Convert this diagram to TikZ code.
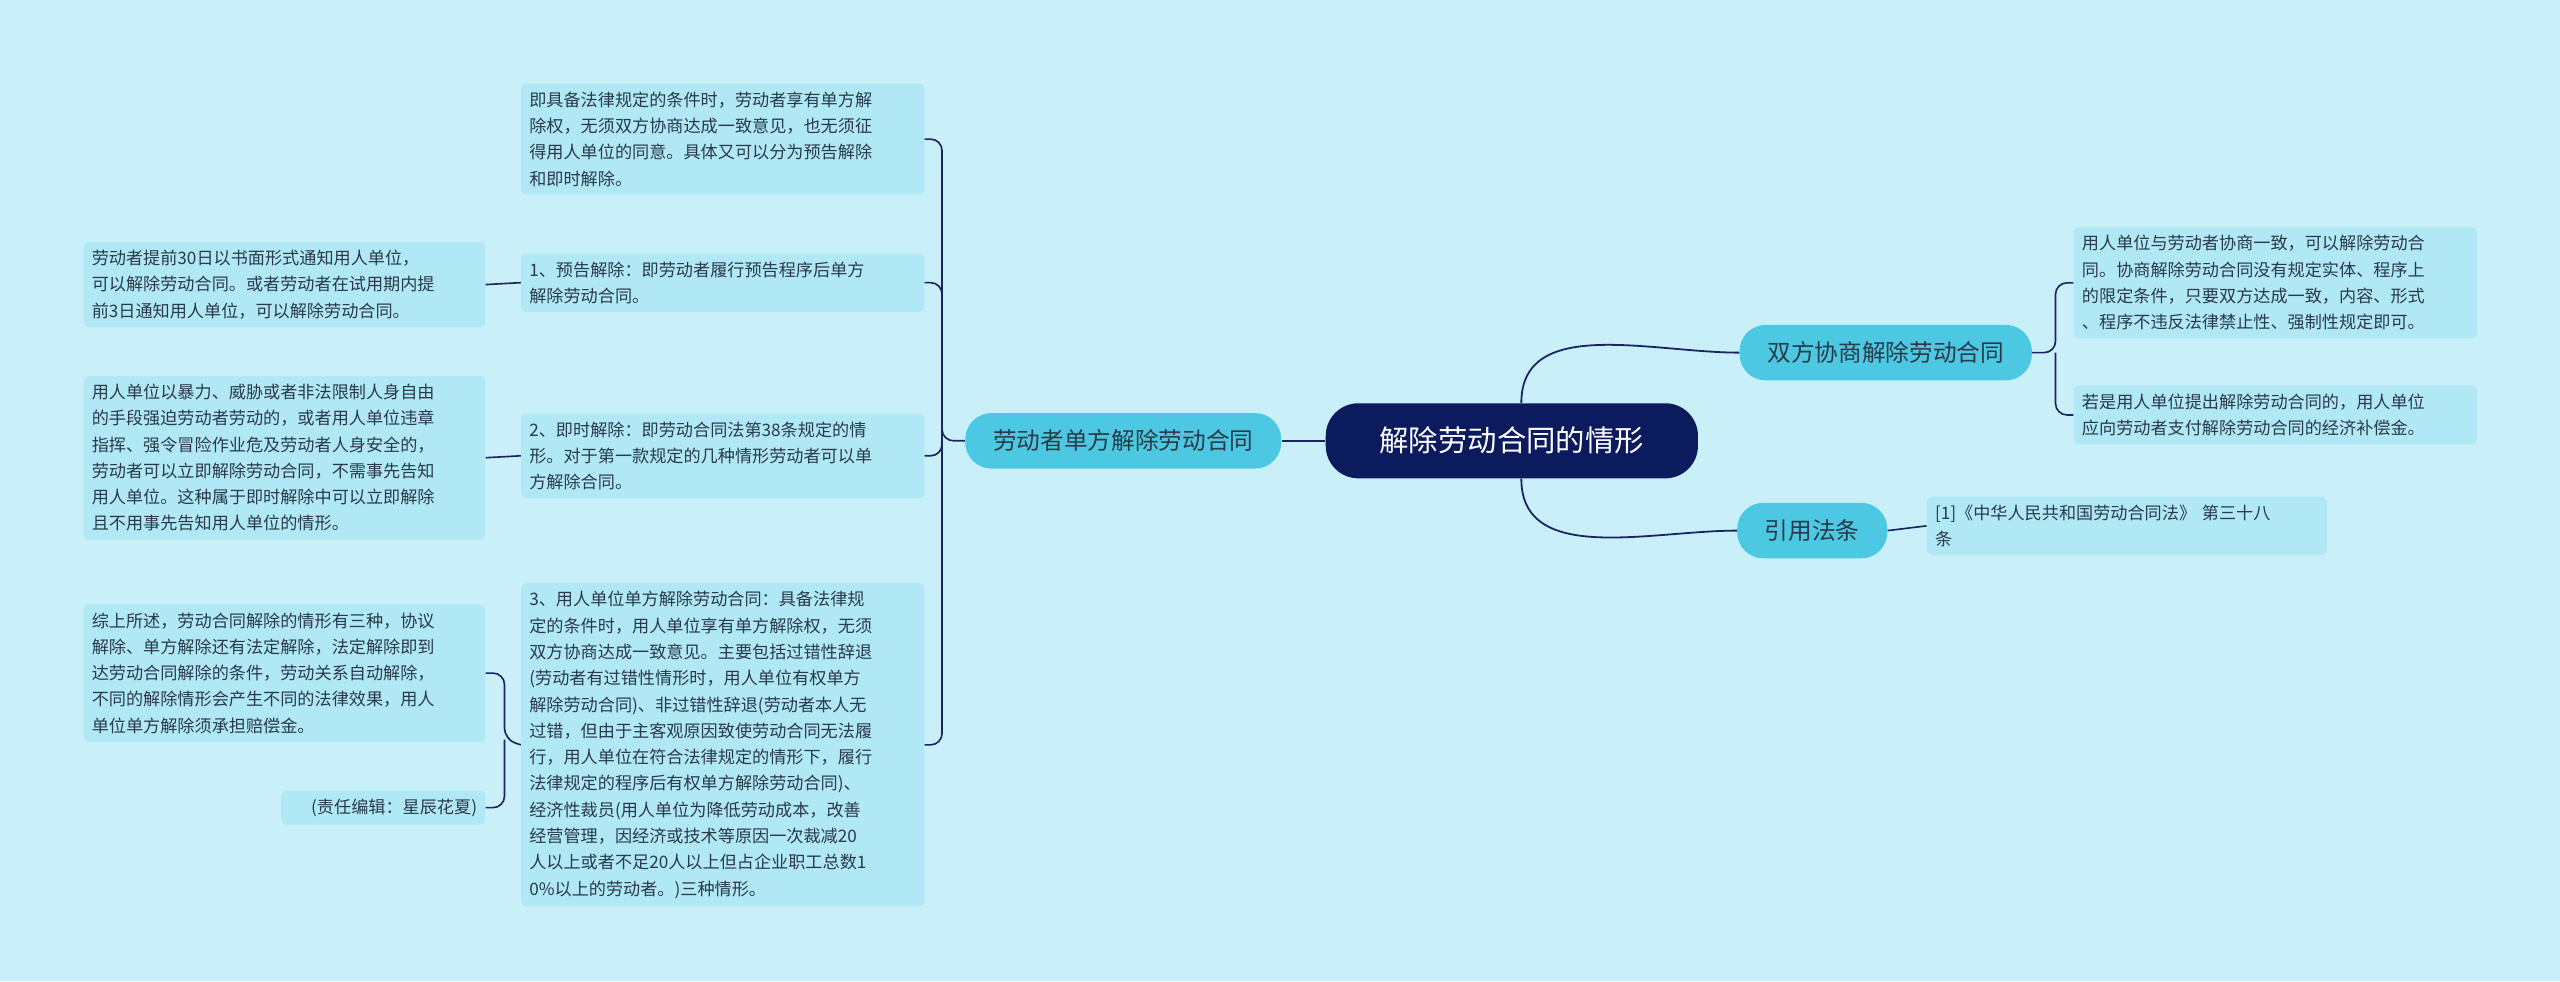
\documentclass[tikz,border=0pt]{standalone}
\usepackage{fontspec}
\setmainfont{Noto Sans CJK SC}
\begin{document}
\begin{tikzpicture}[x=1pt,y=-1pt,
  leaf/.style={fill=leafc,rounded corners=3pt,inner sep=5pt,align=left,anchor=north west,font=\fontsize{10.5}{16.1}\selectfont,text=textc},
  lone/.style={fill=midc,rounded corners=16pt,inner xsep=17pt,minimum height=34pt,font=\fontsize{14.5}{16}\selectfont,text=textc},
  con/.style={draw=linec,line width=1.1pt},
  br/.style={draw=linec,line width=1pt,rounded corners=7pt}]
\definecolor{bgc}{HTML}{C9F0F8}
\definecolor{leafc}{HTML}{B0E8F5}
\definecolor{midc}{HTML}{4CC8E2}
\definecolor{rootc}{HTML}{0B1B5E}
\definecolor{linec}{HTML}{1A2460}
\definecolor{textc}{HTML}{2A3A4A}
\fill[bgc] (0,0) rectangle (1568,601);
\useasboundingbox (0,0) rectangle (1568,601);
\node[fill=rootc,rounded corners=20pt,minimum width=228pt,minimum height=46pt,text=white,font=\fontsize{18}{20}\selectfont] (root) at (926,270) {解除劳动合同的情形};
\node[lone] (L) at (688,270) {劳动者单方解除劳动合同};
\node[lone] (R1) at (1155,216) {双方协商解除劳动合同};
\node[lone] (R2) at (1110,325) {引用法条};
\draw[con] (root.west) -- (L.east);
\draw[con] (root.north west) ++(120,0) to[out=90,in=180] (R1.west);
\draw[con] (root.south west) ++(120,0) to[out=-90,in=180] (R2.west);

\node[leaf,text width=237pt] (r1) at (1270,139) {用人单位与劳动者协商一致，可以解除劳动合\\同。协商解除劳动合同没有规定实体、程序上\\的限定条件，只要双方达成一致，内容、形式\\、程序不违反法律禁止性、强制性规定即可。};
\node[leaf,text width=237pt] (r2) at (1270,236) {若是用人单位提出解除劳动合同的，用人单位\\应向劳动者支付解除劳动合同的经济补偿金。};
\node[leaf,text width=235pt] (r3) at (1180,304) {[1]《中华人民共和国劳动合同法》 第三十八\\条};
\coordinate (rs) at (1259,216);
\draw[br] (R1.east) -- (rs) |- (r1.west);
\draw[br] (rs) |- (r2.west);
\draw[con,line width=1pt] (R2.east) -- (r3.west);

\node[leaf,text width=237pt] (a) at (319,51) {即具备法律规定的条件时，劳动者享有单方解\\除权，无须双方协商达成一致意见，也无须征\\得用人单位的同意。具体又可以分为预告解除\\和即时解除。};
\node[leaf,text width=237pt] (b) at (319,155) {1、预告解除：即劳动者履行预告程序后单方\\解除劳动合同。};
\node[leaf,text width=237pt] (c) at (319,253) {2、即时解除：即劳动合同法第38条规定的情\\形。对于第一款规定的几种情形劳动者可以单\\方解除合同。};
\node[leaf,text width=237pt] (d) at (319,357) {3、用人单位单方解除劳动合同：具备法律规\\定的条件时，用人单位享有单方解除权，无须\\双方协商达成一致意见。主要包括过错性辞退\\(劳动者有过错性情形时，用人单位有权单方\\解除劳动合同)、非过错性辞退(劳动者本人无\\过错，但由于主客观原因致使劳动合同无法履\\行，用人单位在符合法律规定的情形下，履行\\法律规定的程序后有权单方解除劳动合同)、\\经济性裁员(用人单位为降低劳动成本，改善\\经营管理，因经济或技术等原因一次裁减20\\人以上或者不足20人以上但占企业职工总数1\\0\%以上的劳动者。)三种情形。};
\coordinate (ls) at (577,270);
\draw[br] (L.west) -- (ls) |- (a.east);
\draw[br] (ls) |- (b.east);
\draw[br] (ls) |- (c.east);
\draw[br] (ls) |- (d.east);

\node[leaf,text width=236pt] (e) at (51,148) {劳动者提前30日以书面形式通知用人单位，\\可以解除劳动合同。或者劳动者在试用期内提\\前3日通知用人单位，可以解除劳动合同。};
\node[leaf,text width=236pt] (f) at (51,230) {用人单位以暴力、威胁或者非法限制人身自由\\的手段强迫劳动者劳动的，或者用人单位违章\\指挥、强令冒险作业危及劳动者人身安全的，\\劳动者可以立即解除劳动合同，不需事先告知\\用人单位。这种属于即时解除中可以立即解除\\且不用事先告知用人单位的情形。};
\node[leaf,text width=236pt] (g) at (51,370) {综上所述，劳动合同解除的情形有三种，协议\\解除、单方解除还有法定解除，法定解除即到\\达劳动合同解除的条件，劳动关系自动解除，\\不同的解除情形会产生不同的法律效果，用人\\单位单方解除须承担赔偿金。};
\node[leaf,text width=115pt,align=right] (h) at (172,484) {(责任编辑：星辰花夏)};
\draw[con,line width=1pt] (b.west) -- (e.east);
\draw[con,line width=1pt] (c.west) -- (f.east);
\coordinate (ds) at (309,453);
\draw[br] (d.west) -- (ds) |- (g.east);
\draw[br] (ds) |- (h.east);
\end{tikzpicture}
\end{document}
